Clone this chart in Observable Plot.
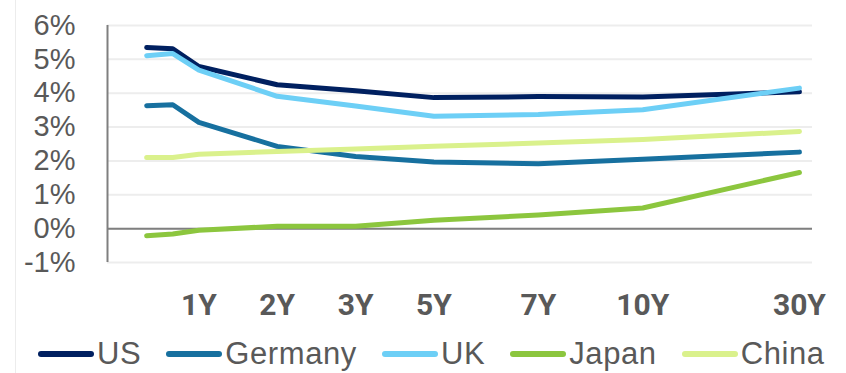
<!DOCTYPE html>
<html>
<head>
<meta charset="utf-8">
<script src="https://cdn.jsdelivr.net/npm/d3@7"></script>
<script src="https://cdn.jsdelivr.net/npm/@observablehq/plot@0.6"></script>
<style>
  html, body { margin: 0; padding: 0; background: #fff; }
  #wrap { position: relative; width: 846px; height: 373px; overflow: hidden; }
  #edge { position: absolute; left: 15px; top: 0; width: 1px; height: 373px; background: #ececec; }
  #chart svg { display: block; }
  #legend { position: absolute; left: 38px; top: 336px; display: flex; align-items: center;
    font-family: "Liberation Sans", Arial, sans-serif; font-size: 31px; letter-spacing: 0.6px;
    color: #595959; line-height: 36px; white-space: nowrap; }
  .item { display: flex; align-items: center; margin-right: 25px; }
  .sw { display: inline-block; width: 56px; height: 6px; border-radius: 3px; margin-right: 3px; }
</style>
</head>
<body>
<div id="wrap">
  <div id="edge"></div>
  <div id="chart"></div>
  <div id="legend"></div>
</div>
<script>
// Maturities and their slot on the chart's 27-slot category axis
const tenors = ["3M", "6M", "1Y", "2Y", "3Y", "5Y", "7Y", "10Y", "30Y"];
const tenorSlot = [1, 2, 3, 6, 9, 12, 16, 20, 26];
const labeledTenors = ["1Y", "2Y", "3Y", "5Y", "7Y", "10Y", "30Y"];

const seriesNames = ["US", "Germany", "UK", "Japan", "China"];
const seriesColors = ["#002060", "#17709f", "#6dcff6", "#8cc63e", "#daf18c"];

const us      = [5.35, 5.31, 4.79, 4.25, 4.07, 3.87, 3.90, 3.89, 4.04];
const germany = [3.63, 3.66, 3.14, 2.43, 2.13, 1.97, 1.92, 2.05, 2.26];
const uk      = [5.11, 5.17, 4.68, 3.91, 3.62, 3.32, 3.37, 3.51, 4.15];
const japan   = [-0.21, -0.16, -0.05, 0.07, 0.07, 0.25, 0.40, 0.61, 1.66];
const china   = [2.10, 2.10, 2.20, 2.28, 2.35, 2.43, 2.53, 2.63, 2.87];

const yTicks = [-1, 0, 1, 2, 3, 4, 5, 6];

const seriesValues = [us, germany, uk, japan, china];
const rows = [];
seriesNames.forEach((name, si) => {
  seriesValues[si].forEach((v, i) => rows.push({series: name, tenor: tenors[i], slot: tenorSlot[i], value: v}));
});
const labelSlots = labeledTenors.map(t => tenorSlot[tenors.indexOf(t)]);

const chart = Plot.plot({
  width: 846,
  height: 330,
  marginLeft: 107,
  marginRight: 34,
  marginTop: 25,
  marginBottom: 68,
  style: {fontFamily: "'Liberation Sans', Arial, sans-serif", background: "#fff"},
  x: {domain: [-0.5, 26.5], axis: null},
  y: {domain: [-1, 6], axis: null},
  color: {domain: seriesNames, range: seriesColors},
  marks: [
    Plot.ruleY(yTicks, {stroke: "#ededed", strokeWidth: 2}),
    Plot.ruleY([0], {stroke: "#7f7f7f", strokeWidth: 2}),
    Plot.ruleX([-0.5], {y1: -1, y2: 6, stroke: "#7f7f7f", strokeWidth: 2}),
    Plot.axisY({ticks: yTicks, tickSize: 0, tickPadding: 32, tickFormat: d => d + "%",
      label: null, fontSize: 29, fill: "#595959"}),
    Plot.axisX({ticks: labelSlots, tickSize: 0, tickPadding: 31,
      tickFormat: s => tenors[tenorSlot.indexOf(s)], label: null,
      fontSize: 30, fontWeight: "bold", fill: "#595959",
      fontFamily: "Roboto, 'Liberation Sans', sans-serif"}),
    Plot.line(rows, {x: "slot", y: "value", z: "series", stroke: "series",
      strokeWidth: 5, strokeLinecap: "round", strokeLinejoin: "round"})
  ]
});
document.getElementById("chart").appendChild(chart);

const legend = document.getElementById("legend");
seriesNames.forEach((name, i) => {
  const item = document.createElement("div");
  item.className = "item";
  const sw = document.createElement("span");
  sw.className = "sw";
  sw.style.background = seriesColors[i];
  const tx = document.createElement("span");
  tx.textContent = name;
  item.appendChild(sw);
  item.appendChild(tx);
  legend.appendChild(item);
});
</script>
</body>
</html>
